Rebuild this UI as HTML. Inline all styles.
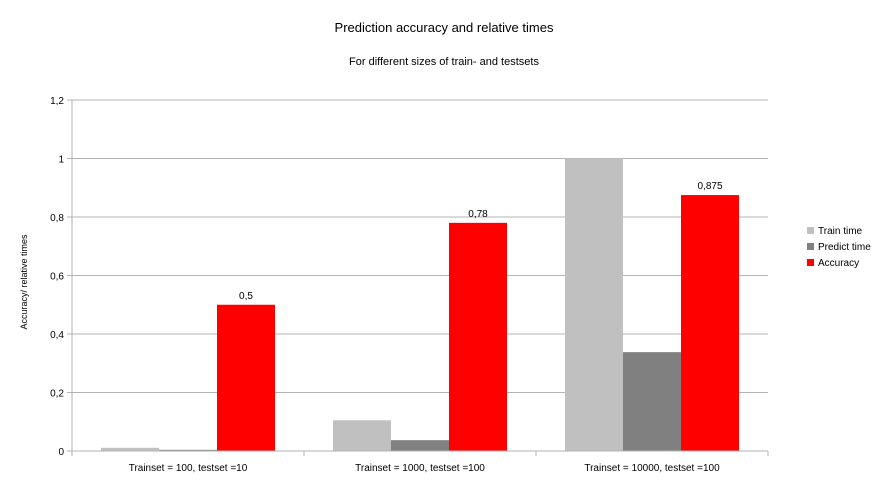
<!DOCTYPE html>
<html><head><meta charset="utf-8"><style>
body{margin:0;background:#fff;font-family:"Liberation Sans",sans-serif;}
svg text{font-family:"Liberation Sans",sans-serif;fill:#000;}
</style></head><body>
<svg id="chart" width="888" height="497">
<text x="444" y="32" font-size="13" text-anchor="middle">Prediction accuracy and relative times</text>
<text x="444" y="65" font-size="11" text-anchor="middle">For different sizes of train- and testsets</text>
<text transform="translate(27,282) rotate(-90)" font-size="9" text-anchor="middle">Accuracy/ relative times</text>
<g id="grid"></g><g id="bars"></g><g id="axes"></g>
<g>
<rect x="807" y="227" width="7" height="7" fill="#c0c0c0"/>
<text x="818" y="234" font-size="10">Train time</text>
<rect x="807" y="243" width="7" height="7" fill="#808080"/>
<text x="818" y="250" font-size="10">Predict time</text>
<rect x="807" y="259" width="7" height="7" fill="#ff0000"/>
<text x="818" y="266" font-size="10">Accuracy</text>
</g>
</svg>
<script>
const categories=["Trainset = 100, testset =10","Trainset = 1000, testset =100","Trainset = 10000, testset =100"];
const trainTime=[0.011,0.105,1.0];
const predictTime=[0.004,0.037,0.338];
const accuracy=[0.5,0.78,0.875];
const accuracyLabels=["0,5","0,78","0,875"];
const yTicks=[0,0.2,0.4,0.6,0.8,1,1.2];
const yTickLabels=["0","0,2","0,4","0,6","0,8","1","1,2"];
const NS="http://www.w3.org/2000/svg";
const L=72,R=768,T=100,B=451,yMax=1.2;
const y=v=>B-(v/yMax)*(B-T);
const gw=(R-L)/categories.length;
const bw=58;
function mk(tag,attrs,parent){const e=document.createElementNS(NS,tag);for(const k in attrs)e.setAttribute(k,attrs[k]);document.getElementById(parent).appendChild(e);return e;}
yTicks.forEach((t,i)=>{
 const l=mk('line',{x1:L-5,x2:R,y1:y(t),y2:y(t),stroke:'#b3b3b3','stroke-width':1},'grid');
 
 
 const tx=mk('text',{x:L-8,y:y(t)+4,'font-size':10,'text-anchor':'end'},'axes');
 tx.textContent=yTickLabels[i];
 
 
});
const series=[[trainTime,'#c0c0c0','bar-train-time'],[predictTime,'#808080','bar-predict-time'],[accuracy,'#ff0000','bar-accuracy']];
categories.forEach((c,i)=>{
 const gx=L+i*gw+(gw-3*bw)/2;
 series.forEach((s,j)=>{
  const v=s[0][i];
  const r=mk('rect',{x:gx+j*bw,y:y(v),width:bw,height:B-y(v),fill:s[1]},'bars');
  
  
 });
 const al=mk('text',{x:gx+2.5*bw,y:y(accuracy[i])-6,'font-size':10,'text-anchor':'middle'},'bars');
 al.textContent=accuracyLabels[i];
 
 
 const cl=mk('text',{x:L+(i+0.5)*gw,y:471,'font-size':10,'text-anchor':'middle'},'axes');
 cl.textContent=c;
 
 
});
for(let i=0;i<=categories.length;i++){
 const tk=mk('line',{x1:L+i*gw,x2:L+i*gw,y1:B,y2:B+5,stroke:'#b3b3b3'},'axes');
 
 
}
const ya=mk('line',{x1:L,x2:L,y1:T,y2:B+5,stroke:'#b3b3b3'},'axes');


const xa=mk('line',{x1:L-5,x2:R,y1:B,y2:B,stroke:'#b3b3b3'},'axes');


</script>
</body></html>
